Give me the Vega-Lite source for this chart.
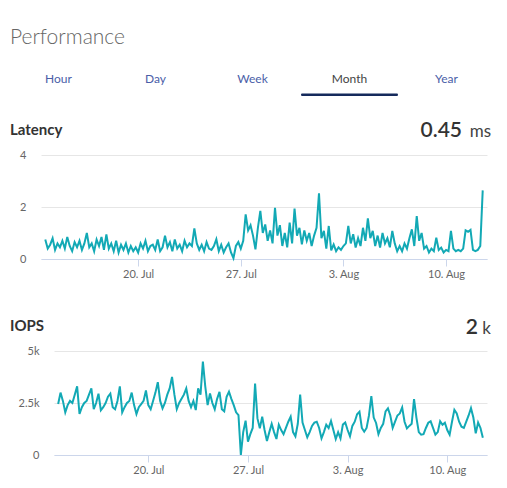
{
  "$schema": "https://vega.github.io/schema/vega-lite/v6.json",
  "background": "white",
  "padding": {"left": 10, "top": 27, "right": 10, "bottom": 5},
  "title": {"text": "Performance", "anchor": "start", "fontSize": 21, "fontWeight": 300, "color": "#666666", "font": "Lato", "baseline": "alphabetic", "offset": 1},
  "datasets": {
    "perf": [
      {"t":"2020-07-13T16:00","lat":0.75,"iops":2450},{"t":"2020-07-13T20:00","lat":0.4,"iops":3000},
      {"t":"2020-07-14T00:00","lat":0.55,"iops":2600},{"t":"2020-07-14T04:00","lat":0.8,"iops":2050},{"t":"2020-07-14T08:00","lat":0.35,"iops":2400},{"t":"2020-07-14T12:00","lat":0.6,"iops":2600},{"t":"2020-07-14T16:00","lat":0.45,"iops":2500},{"t":"2020-07-14T20:00","lat":0.7,"iops":2900},
      {"t":"2020-07-15T00:00","lat":0.4,"iops":3300},{"t":"2020-07-15T04:00","lat":0.85,"iops":1970},{"t":"2020-07-15T08:00","lat":0.5,"iops":2300},{"t":"2020-07-15T12:00","lat":0.3,"iops":2500},{"t":"2020-07-15T16:00","lat":0.65,"iops":2600},{"t":"2020-07-15T20:00","lat":0.45,"iops":2900},
      {"t":"2020-07-16T00:00","lat":0.7,"iops":3200},{"t":"2020-07-16T04:00","lat":0.35,"iops":2200},{"t":"2020-07-16T08:00","lat":0.6,"iops":2500},{"t":"2020-07-16T12:00","lat":1.0,"iops":2950},{"t":"2020-07-16T16:00","lat":0.45,"iops":2150},{"t":"2020-07-16T20:00","lat":0.6,"iops":2300},
      {"t":"2020-07-17T00:00","lat":0.3,"iops":2500},{"t":"2020-07-17T04:00","lat":0.75,"iops":2800},{"t":"2020-07-17T08:00","lat":0.5,"iops":2950},{"t":"2020-07-17T12:00","lat":0.85,"iops":2300},{"t":"2020-07-17T16:00","lat":0.35,"iops":2200},{"t":"2020-07-17T20:00","lat":0.95,"iops":2600},
      {"t":"2020-07-18T00:00","lat":0.4,"iops":3300},{"t":"2020-07-18T04:00","lat":0.6,"iops":2050},{"t":"2020-07-18T08:00","lat":0.3,"iops":2300},{"t":"2020-07-18T12:00","lat":0.7,"iops":2500},{"t":"2020-07-18T16:00","lat":0.25,"iops":2600},{"t":"2020-07-18T20:00","lat":0.55,"iops":3000},
      {"t":"2020-07-19T00:00","lat":0.35,"iops":2400},{"t":"2020-07-19T04:00","lat":0.6,"iops":1970},{"t":"2020-07-19T08:00","lat":0.25,"iops":2300},{"t":"2020-07-19T12:00","lat":0.5,"iops":2450},{"t":"2020-07-19T16:00","lat":0.3,"iops":2600},{"t":"2020-07-19T20:00","lat":0.45,"iops":3100},
      {"t":"2020-07-20T00:00","lat":0.25,"iops":2400},{"t":"2020-07-20T04:00","lat":0.6,"iops":2200},{"t":"2020-07-20T08:00","lat":0.4,"iops":2600},{"t":"2020-07-20T12:00","lat":0.7,"iops":3000},{"t":"2020-07-20T16:00","lat":0.3,"iops":3500},{"t":"2020-07-20T20:00","lat":0.5,"iops":2600},
      {"t":"2020-07-21T00:00","lat":0.55,"iops":2240},{"t":"2020-07-21T04:00","lat":0.35,"iops":2500},{"t":"2020-07-21T08:00","lat":0.75,"iops":2900},{"t":"2020-07-21T12:00","lat":0.3,"iops":3200},{"t":"2020-07-21T16:00","lat":0.45,"iops":3750},{"t":"2020-07-21T20:00","lat":0.9,"iops":2900},
      {"t":"2020-07-22T00:00","lat":0.45,"iops":2200},{"t":"2020-07-22T04:00","lat":0.65,"iops":2500},{"t":"2020-07-22T08:00","lat":0.3,"iops":2700},{"t":"2020-07-22T12:00","lat":0.75,"iops":2900},{"t":"2020-07-22T16:00","lat":0.4,"iops":3200},{"t":"2020-07-22T20:00","lat":0.55,"iops":2600},
      {"t":"2020-07-23T00:00","lat":0.3,"iops":2300},{"t":"2020-07-23T04:00","lat":0.7,"iops":2600},{"t":"2020-07-23T08:00","lat":0.45,"iops":2160},{"t":"2020-07-23T12:00","lat":0.6,"iops":3200},{"t":"2020-07-23T16:00","lat":0.5,"iops":2900},{"t":"2020-07-23T20:00","lat":1.18,"iops":4490},
      {"t":"2020-07-24T00:00","lat":0.6,"iops":3300},{"t":"2020-07-24T04:00","lat":0.35,"iops":2400},{"t":"2020-07-24T08:00","lat":0.55,"iops":2960},{"t":"2020-07-24T12:00","lat":0.3,"iops":2500},{"t":"2020-07-24T16:00","lat":0.65,"iops":2200},{"t":"2020-07-24T20:00","lat":0.4,"iops":2700},
      {"t":"2020-07-25T00:00","lat":0.35,"iops":3040},{"t":"2020-07-25T04:00","lat":0.5,"iops":2200},{"t":"2020-07-25T08:00","lat":0.76,"iops":2100},{"t":"2020-07-25T12:00","lat":0.3,"iops":2800},{"t":"2020-07-25T16:00","lat":0.55,"iops":3040},{"t":"2020-07-25T20:00","lat":0.25,"iops":2700},
      {"t":"2020-07-26T00:00","lat":0.45,"iops":2400},{"t":"2020-07-26T04:00","lat":0.6,"iops":2050},{"t":"2020-07-26T08:00","lat":0.25,"iops":1920},{"t":"2020-07-26T12:00","lat":0.03,"iops":0},{"t":"2020-07-26T16:00","lat":0.5,"iops":1100},{"t":"2020-07-26T20:00","lat":0.65,"iops":1650},
      {"t":"2020-07-27T00:00","lat":0.4,"iops":640},{"t":"2020-07-27T04:00","lat":0.7,"iops":1000},{"t":"2020-07-27T08:00","lat":1.72,"iops":1300},{"t":"2020-07-27T12:00","lat":1.1,"iops":3440},{"t":"2020-07-27T16:00","lat":1.3,"iops":1760},{"t":"2020-07-27T20:00","lat":0.9,"iops":1280},
      {"t":"2020-07-28T00:00","lat":0.37,"iops":1840},{"t":"2020-07-28T04:00","lat":1.2,"iops":1200},{"t":"2020-07-28T08:00","lat":1.85,"iops":670},{"t":"2020-07-28T12:00","lat":1.0,"iops":1100},{"t":"2020-07-28T16:00","lat":1.33,"iops":1500},{"t":"2020-07-28T20:00","lat":0.7,"iops":1100},
      {"t":"2020-07-29T00:00","lat":1.1,"iops":770},{"t":"2020-07-29T04:00","lat":0.6,"iops":1460},{"t":"2020-07-29T08:00","lat":1.97,"iops":1200},{"t":"2020-07-29T12:00","lat":0.9,"iops":1000},{"t":"2020-07-29T16:00","lat":1.3,"iops":1300},{"t":"2020-07-29T20:00","lat":0.5,"iops":1600},
      {"t":"2020-07-30T00:00","lat":1.0,"iops":1840},{"t":"2020-07-30T04:00","lat":0.45,"iops":1100},{"t":"2020-07-30T08:00","lat":1.4,"iops":900},{"t":"2020-07-30T12:00","lat":0.6,"iops":1500},{"t":"2020-07-30T16:00","lat":1.94,"iops":2910},{"t":"2020-07-30T20:00","lat":0.9,"iops":1560},
      {"t":"2020-07-31T00:00","lat":1.2,"iops":1200},{"t":"2020-07-31T04:00","lat":0.56,"iops":850},{"t":"2020-07-31T08:00","lat":1.1,"iops":1100},{"t":"2020-07-31T12:00","lat":0.7,"iops":1400},{"t":"2020-07-31T16:00","lat":1.0,"iops":1560},{"t":"2020-07-31T20:00","lat":0.5,"iops":1600},
      {"t":"2020-08-01T00:00","lat":0.9,"iops":1300},{"t":"2020-08-01T04:00","lat":1.2,"iops":800},{"t":"2020-08-01T08:00","lat":2.53,"iops":1100},{"t":"2020-08-01T12:00","lat":0.8,"iops":1460},{"t":"2020-08-01T16:00","lat":1.08,"iops":1300},{"t":"2020-08-01T20:00","lat":0.4,"iops":1640},
      {"t":"2020-08-02T00:00","lat":1.27,"iops":1200},{"t":"2020-08-02T04:00","lat":0.33,"iops":770},{"t":"2020-08-02T08:00","lat":0.56,"iops":1100},{"t":"2020-08-02T12:00","lat":0.3,"iops":800},{"t":"2020-08-02T16:00","lat":0.45,"iops":1460},{"t":"2020-08-02T20:00","lat":0.35,"iops":1560},
      {"t":"2020-08-03T00:00","lat":0.5,"iops":1200},{"t":"2020-08-03T04:00","lat":0.6,"iops":900},{"t":"2020-08-03T08:00","lat":1.27,"iops":1400},{"t":"2020-08-03T12:00","lat":0.6,"iops":1600},{"t":"2020-08-03T16:00","lat":0.95,"iops":1960},{"t":"2020-08-03T20:00","lat":0.44,"iops":2080},
      {"t":"2020-08-04T00:00","lat":0.8,"iops":1300},{"t":"2020-08-04T04:00","lat":0.5,"iops":1120},{"t":"2020-08-04T08:00","lat":1.2,"iops":1300},{"t":"2020-08-04T12:00","lat":0.7,"iops":1900},{"t":"2020-08-04T16:00","lat":1.56,"iops":2830},{"t":"2020-08-04T20:00","lat":0.8,"iops":1800},
      {"t":"2020-08-05T00:00","lat":1.08,"iops":1540},{"t":"2020-08-05T04:00","lat":0.5,"iops":1000},{"t":"2020-08-05T08:00","lat":0.9,"iops":1300},{"t":"2020-08-05T12:00","lat":0.44,"iops":1500},{"t":"2020-08-05T16:00","lat":1.0,"iops":2100},{"t":"2020-08-05T20:00","lat":0.6,"iops":2240},
      {"t":"2020-08-06T00:00","lat":0.8,"iops":1900},{"t":"2020-08-06T04:00","lat":0.45,"iops":1300},{"t":"2020-08-06T08:00","lat":1.08,"iops":1600},{"t":"2020-08-06T12:00","lat":0.6,"iops":1900},{"t":"2020-08-06T16:00","lat":0.3,"iops":2000},{"t":"2020-08-06T20:00","lat":0.5,"iops":2290},
      {"t":"2020-08-07T00:00","lat":0.3,"iops":1600},{"t":"2020-08-07T04:00","lat":0.6,"iops":1280},{"t":"2020-08-07T08:00","lat":0.4,"iops":1400},{"t":"2020-08-07T12:00","lat":0.8,"iops":1500},{"t":"2020-08-07T16:00","lat":1.14,"iops":2690},{"t":"2020-08-07T20:00","lat":0.5,"iops":1800},
      {"t":"2020-08-08T00:00","lat":1.65,"iops":1100},{"t":"2020-08-08T04:00","lat":0.7,"iops":980},{"t":"2020-08-08T08:00","lat":1.0,"iops":1000},{"t":"2020-08-08T12:00","lat":0.4,"iops":1300},{"t":"2020-08-08T16:00","lat":0.5,"iops":1550},{"t":"2020-08-08T20:00","lat":0.25,"iops":1620},
      {"t":"2020-08-09T00:00","lat":0.4,"iops":1300},{"t":"2020-08-09T04:00","lat":0.3,"iops":980},{"t":"2020-08-09T08:00","lat":0.82,"iops":1100},{"t":"2020-08-09T12:00","lat":0.35,"iops":1620},{"t":"2020-08-09T16:00","lat":0.44,"iops":1450},{"t":"2020-08-09T20:00","lat":0.25,"iops":1550},
      {"t":"2020-08-10T00:00","lat":0.35,"iops":1200},{"t":"2020-08-10T04:00","lat":0.3,"iops":980},{"t":"2020-08-10T08:00","lat":1.08,"iops":1600},{"t":"2020-08-10T12:00","lat":0.4,"iops":2170},{"t":"2020-08-10T16:00","lat":0.3,"iops":2000},{"t":"2020-08-10T20:00","lat":0.35,"iops":1600},
      {"t":"2020-08-11T00:00","lat":0.3,"iops":1360},{"t":"2020-08-11T04:00","lat":0.4,"iops":1300},{"t":"2020-08-11T08:00","lat":1.1,"iops":1600},{"t":"2020-08-11T12:00","lat":1.05,"iops":1900},{"t":"2020-08-11T16:00","lat":1.12,"iops":2250},{"t":"2020-08-11T20:00","lat":0.35,"iops":1800},
      {"t":"2020-08-12T00:00","lat":0.3,"iops":1040},{"t":"2020-08-12T04:00","lat":0.35,"iops":1560},{"t":"2020-08-12T08:00","lat":0.5,"iops":1300},{"t":"2020-08-12T12:00","lat":2.64,"iops":830}
    ],
    "tabs": [
      {"tab": "Hour"}, {"tab": "Day"}, {"tab": "Week"}, {"tab": "Month"}, {"tab": "Year"}
    ],
    "headers": [
      {"metric": "Latency", "value": "0.45", "unit": "ms"},
      {"metric": "IOPS", "value": "2", "unit": "k"}
    ]
  },
  "columns": 1,
  "align": "none",
  "spacing": 24,
  "concat": [
    {
      "width": 485,
      "height": 30,
      "data": {"name": "tabs"},
      "encoding": {
        "x": {"field": "tab", "type": "nominal", "sort": null, "scale": {"paddingInner": 0, "paddingOuter": 0, "range": [-31, 454]}, "axis": null}
      },
      "layer": [
        {
          "mark": {"type": "text", "fontSize": 12, "font": "Lato", "baseline": "middle", "align": "center"},
          "encoding": {
            "y": {"datum": 17, "type": "quantitative", "scale": {"domain": [0, 30]}, "axis": null},
            "text": {"field": "tab"},
            "color": {"condition": {"test": "datum.tab === 'Month'", "value": "#444444"}, "value": "#4a5ea8"}
          }
        },
        {
          "transform": [{"filter": "datum.tab === 'Month'"}],
          "mark": {"type": "bar", "color": "#152a5c", "cornerRadius": 1.5},
          "encoding": {
            "y": {"datum": 0, "type": "quantitative"},
            "y2": {"datum": 2.5}
          }
        }
      ]
    },
    {
      "columns": 1,
      "align": "none",
      "spacing": 38,
      "concat": [
        {
          "width": 446,
          "height": 104,
          "layer": [
            {
              "data": {"name": "perf"},
              "mark": {"type": "line", "color": "#12a9b5", "strokeWidth": 2},
              "encoding": {
                "x": {"field": "t", "type": "temporal",
                  "scale": {"domain": [{"year": 2020, "month": "jul", "date": 13, "hours": 9}, {"year": 2020, "month": "aug", "date": 12, "hours": 19}]},
                  "axis": {"values": [{"year": 2020, "month": "jul", "date": 20}, {"year": 2020, "month": "jul", "date": 27}, {"year": 2020, "month": "aug", "date": 3}, {"year": 2020, "month": "aug", "date": 10}], "format": "%-d. %b"}},
                "y": {"field": "lat", "type": "quantitative", "scale": {"domain": [0, 4]}, "axis": {"values": [0, 2, 4]}}
              }
            },
            {
              "data": {"name": "headers"},
              "transform": [{"filter": "datum.metric === 'Latency'"}],
              "mark": {"type": "text", "align": "left", "baseline": "alphabetic", "fontSize": 15, "fontWeight": "bold", "color": "#333333", "dx": -31, "dy": -20},
              "encoding": {
                "x": {"datum": {"year": 2020, "month": "jul", "date": 13, "hours": 9}, "type": "temporal"},
                "y": {"datum": 4, "type": "quantitative"},
                "text": {"field": "metric"}
              }
            },
            {
              "data": {"name": "headers"},
              "transform": [{"filter": "datum.metric === 'Latency'"}],
              "mark": {"type": "text", "align": "right", "baseline": "alphabetic", "fontSize": 21, "fontWeight": 600, "color": "#333333", "dx": -25, "dy": -18},
              "encoding": {
                "x": {"datum": {"year": 2020, "month": "aug", "date": 12, "hours": 19}, "type": "temporal"},
                "y": {"datum": 4, "type": "quantitative"},
                "text": {"field": "value"}
              }
            },
            {
              "data": {"name": "headers"},
              "transform": [{"filter": "datum.metric === 'Latency'"}],
              "mark": {"type": "text", "align": "right", "baseline": "alphabetic", "fontSize": 17, "color": "#444444", "dx": 4, "dy": -18},
              "encoding": {
                "x": {"datum": {"year": 2020, "month": "aug", "date": 12, "hours": 19}, "type": "temporal"},
                "y": {"datum": 4, "type": "quantitative"},
                "text": {"field": "unit"}
              }
            }
          ]
        },
        {
          "width": 446,
          "height": 104,
          "layer": [
            {
              "data": {"name": "perf"},
              "mark": {"type": "line", "color": "#12a9b5", "strokeWidth": 2},
              "encoding": {
                "x": {"field": "t", "type": "temporal",
                  "scale": {"domain": [{"year": 2020, "month": "jul", "date": 13, "hours": 9}, {"year": 2020, "month": "aug", "date": 12, "hours": 19}], "range": [13, 446]},
                  "axis": {"values": [{"year": 2020, "month": "jul", "date": 20}, {"year": 2020, "month": "jul", "date": 27}, {"year": 2020, "month": "aug", "date": 3}, {"year": 2020, "month": "aug", "date": 10}], "format": "%-d. %b"}},
                "y": {"field": "iops", "type": "quantitative", "scale": {"domain": [0, 5000]}, "axis": {"values": [0, 2500, 5000], "offset": -13, "labelExpr": "datum.value === 0 ? '0' : (datum.value / 1000) + 'k'"}}
              }
            },
            {
              "data": {"name": "headers"},
              "transform": [{"filter": "datum.metric === 'IOPS'"}],
              "mark": {"type": "text", "align": "left", "baseline": "alphabetic", "fontSize": 15, "fontWeight": "bold", "color": "#333333", "dx": -44, "dy": -20},
              "encoding": {
                "x": {"datum": {"year": 2020, "month": "jul", "date": 13, "hours": 9}, "type": "temporal"},
                "y": {"datum": 5000, "type": "quantitative"},
                "text": {"field": "metric"}
              }
            },
            {
              "data": {"name": "headers"},
              "transform": [{"filter": "datum.metric === 'IOPS'"}],
              "mark": {"type": "text", "align": "right", "baseline": "alphabetic", "fontSize": 21, "fontWeight": 600, "color": "#333333", "dx": -9, "dy": -17},
              "encoding": {
                "x": {"datum": {"year": 2020, "month": "aug", "date": 12, "hours": 19}, "type": "temporal"},
                "y": {"datum": 5000, "type": "quantitative"},
                "text": {"field": "value"}
              }
            },
            {
              "data": {"name": "headers"},
              "transform": [{"filter": "datum.metric === 'IOPS'"}],
              "mark": {"type": "text", "align": "right", "baseline": "alphabetic", "fontSize": 17, "color": "#444444", "dx": 4, "dy": -17},
              "encoding": {
                "x": {"datum": {"year": 2020, "month": "aug", "date": 12, "hours": 19}, "type": "temporal"},
                "y": {"datum": 5000, "type": "quantitative"},
                "text": {"field": "unit"}
              }
            }
          ]
        }
      ]
    }
  ],
  "config": {
    "view": {"stroke": null},
    "font": "Lato",
    "axisX": {"grid": false, "domainColor": "#ccd6eb", "tickColor": "#ccd6eb", "tickSize": 7, "labelPadding": 2, "labelColor": "#666666", "labelFontSize": 11, "title": null},
    "axisY": {"grid": true, "gridColor": "#e6e6e6", "domain": false, "ticks": false, "labelPadding": 15, "labelColor": "#666666", "labelFontSize": 11, "title": null}
  }
}
